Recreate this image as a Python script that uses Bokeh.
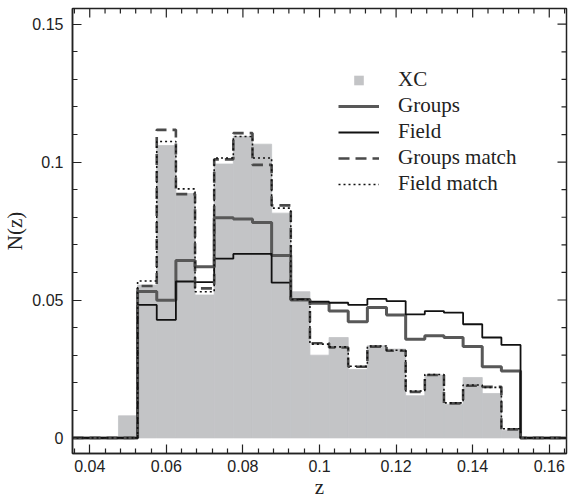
import math
from bokeh.plotting import figure
from bokeh.embed import file_html
from bokeh.resources import INLINE
from bokeh.models import (Range1d, FixedTicker, Legend, LegendItem, CustomJSTickFormatter)

# ---- data ----
xc_edges = [0.0475, 0.0525, 0.0575, 0.0625, 0.0675, 0.0725, 0.0775, 0.0825, 0.0875,
            0.0925, 0.0975, 0.1025, 0.1075, 0.1125, 0.1175, 0.1225, 0.1275, 0.1325,
            0.1375, 0.1425, 0.1475, 0.1525]
xc_vals = [0.0080, 0.0554, 0.1060, 0.0886, 0.0518, 0.0993, 0.1093, 0.1065, 0.0815,
           0.0530, 0.0300, 0.0364, 0.0248, 0.0334, 0.0322, 0.0153, 0.0228, 0.0122,
           0.0219, 0.0161, 0.0028]
line_edges = xc_edges[1:]
groups = [0.0531, 0.0499, 0.0643, 0.0621, 0.0798, 0.0794, 0.0781, 0.0661, 0.0500, 0.0488,
          0.0460, 0.0421, 0.0473, 0.0446, 0.0358, 0.0370, 0.0364, 0.0331, 0.0258, 0.0243]
field = [0.0482, 0.0428, 0.0567, 0.0565, 0.0650, 0.0667, 0.0667, 0.0563, 0.0503, 0.0494,
         0.0490, 0.0482, 0.0504, 0.0496, 0.0448, 0.0460, 0.0454, 0.0412, 0.0364, 0.0337]
groups_match = [0.0551, 0.1117, 0.0884, 0.0542, 0.1010, 0.1105, 0.0990, 0.0843, 0.0502, 0.0343,
                0.0328, 0.0258, 0.0331, 0.0316, 0.0167, 0.0228, 0.0125, 0.0189, 0.0185, 0.0031]
field_match = [0.0569, 0.1075, 0.0903, 0.0530, 0.1015, 0.1093, 0.1015, 0.0833, 0.0502, 0.0340,
               0.0330, 0.0260, 0.0333, 0.0318, 0.0170, 0.0230, 0.0127, 0.0192, 0.0183, 0.0033]
x_major = [0.04, 0.06, 0.08, 0.10, 0.12, 0.14, 0.16]
x_minor = [0.036, 0.044, 0.048, 0.052, 0.056, 0.064, 0.068, 0.072, 0.076, 0.084, 0.088,
           0.092, 0.096, 0.104, 0.108, 0.112, 0.116, 0.124, 0.128, 0.132, 0.136, 0.144,
           0.148, 0.152, 0.156, 0.164]
y_major = [0.0, 0.05, 0.10, 0.15]
y_minor = [0.01, 0.02, 0.03, 0.04, 0.06, 0.07, 0.08, 0.09, 0.11, 0.12, 0.13, 0.14]
labels = ["XC", "Groups", "Field", "Groups match", "Field match"]

X0, X1 = 0.0355, 0.1645
Y0, Y1 = -0.00566, 0.1557

p = figure(width=568, height=503, output_backend="svg", toolbar_location=None,
           x_range=Range1d(X0, X1), y_range=Range1d(Y0, Y1),
           min_border_left=71, min_border_right=2, min_border_top=8, min_border_bottom=50,
           x_axis_label="z", y_axis_label="N(z)")
p.background_fill_color = "white"
p.border_fill_color = "white"
p.grid.visible = False
p.outline_line_color = "#222222"
p.outline_line_width = 1.5

fmt = CustomJSTickFormatter(code="return tick.toFixed(3).replace(/0+$/,'').replace(/\\.$/,'');")

def style_axis(ax, ticker):
    ax.ticker = ticker
    ax.formatter = fmt
    ax.axis_line_color = "#222222"
    ax.axis_line_width = 1.5
    ax.major_tick_in = 9
    ax.major_tick_out = 0
    ax.minor_tick_in = 5
    ax.minor_tick_out = 0
    ax.major_tick_line_color = "#222222"
    ax.minor_tick_line_color = "#222222"
    ax.major_tick_line_width = 1.2
    ax.minor_tick_line_width = 1.2
    ax.major_label_text_font = "Liberation Sans"
    ax.major_label_text_font_size = "16px"
    ax.major_label_text_color = "#222222"
    ax.axis_label_text_font = "Liberation Serif"
    ax.axis_label_text_font_size = "21px"
    ax.axis_label_text_font_style = "normal"
    ax.axis_label_text_color = "#222222"

style_axis(p.xaxis[0], FixedTicker(ticks=x_major, minor_ticks=x_minor))
style_axis(p.yaxis[0], FixedTicker(ticks=y_major, minor_ticks=y_minor))
p.xaxis[0].major_label_standoff = 6
p.xaxis[0].axis_label_standoff = 0
p.yaxis[0].major_label_standoff = 9
p.yaxis[0].axis_label_standoff = 2

# XC filled histogram
p.quad(left=xc_edges[:-1], right=xc_edges[1:], top=xc_vals, bottom=0,
       fill_color="#c3c4c6", line_color="#c3c4c6", line_width=0.8)

def step_xy(vals):
    xs = [0.0] + line_edges + [0.3]
    ys = [0.0] + vals + [0.0, 0.0]
    return xs, ys

gx, gy = step_xy(groups)
r_groups = p.step(gx, gy, mode="after", line_color="#585858", line_width=3)
fx, fy = step_xy(field)
r_field = p.step(fx, fy, mode="after", line_color="#111111", line_width=1.8)
gmx, gmy = step_xy(groups_match)
r_gm = p.step(gmx, gmy, mode="after", line_color="#4a4a4a", line_width=2.6, line_dash="11 6")
fmx, fmy = step_xy(field_match)
r_fm = p.step(fmx, fmy, mode="after", line_color="#111111", line_width=1.6, line_dash="2 3")

# inward ticks on the top and right edges of the frame
tick_col = "#222222"
p.ray(x=x_major, y=[Y1] * len(x_major), length=9, length_units="screen",
      angle=-math.pi / 2, line_color=tick_col, line_width=1.2)
p.ray(x=x_minor, y=[Y1] * len(x_minor), length=5, length_units="screen",
      angle=-math.pi / 2, line_color=tick_col, line_width=1.2)
p.ray(x=[X1] * len(y_major), y=y_major, length=9, length_units="screen",
      angle=math.pi, line_color=tick_col, line_width=1.2)
p.ray(x=[X1] * len(y_minor), y=y_minor, length=5, length_units="screen",
      angle=math.pi, line_color=tick_col, line_width=1.2)

# legend proxy for XC (a single point placed outside the visible range)
r_xc_leg = p.scatter(x=[X0 - 1.0], y=[Y0 - 1.0], marker="square", size=12,
                     fill_color="#c3c4c6", line_color=None)

legend = Legend(items=[
    LegendItem(label=labels[0], renderers=[r_xc_leg]),
    LegendItem(label=labels[1], renderers=[r_groups]),
    LegendItem(label=labels[2], renderers=[r_field]),
    LegendItem(label=labels[3], renderers=[r_gm]),
    LegendItem(label=labels[4], renderers=[r_fm]),
], location=(266, 257))
legend.label_text_font = "Liberation Serif"
legend.label_text_font_size = "21px"
legend.label_text_color = "#222222"
legend.glyph_width = 41
legend.glyph_height = 24
legend.label_height = 24
legend.spacing = 1
legend.label_standoff = 19
legend.padding = 0
legend.margin = 0
legend.border_line_color = None
legend.background_fill_alpha = 0
p.add_layout(legend)

open("out.html", "w").write(file_html(p, INLINE))
